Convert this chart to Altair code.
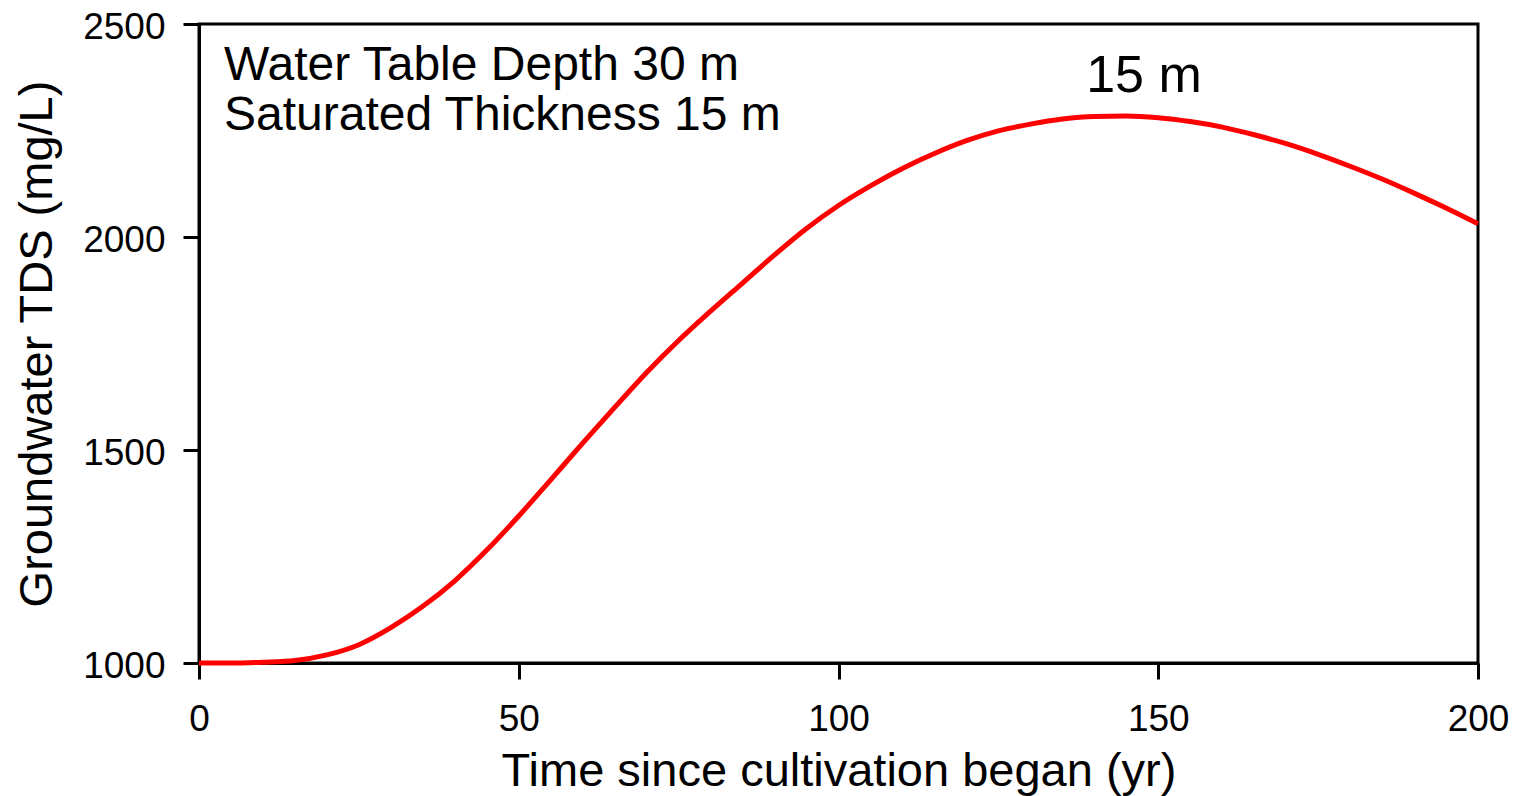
import altair as alt
import pandas as pd

years = [0, 5, 10, 15, 20, 25, 30, 35, 40, 45, 50, 55, 60, 65, 70, 75, 80, 85, 90, 95,
         100, 105, 110, 115, 120, 125, 130, 135, 140, 145, 150, 155, 160, 165, 170, 175,
         180, 185, 190, 195, 200]
tds = [1000, 1000, 1002, 1006, 1019, 1043, 1083, 1133, 1193, 1265, 1345, 1430, 1516,
       1600, 1682, 1757, 1826, 1892, 1958, 2020, 2074, 2120, 2161, 2196, 2226, 2249,
       2265, 2277, 2283, 2284, 2280, 2271, 2258, 2240, 2219, 2194, 2166, 2136, 2103,
       2068, 2031]

x_ticks = [0, 50, 100, 150, 200]
y_ticks = [1000, 1500, 2000, 2500]

note_lines = ["Water Table Depth 30 m", "Saturated Thickness 15 m"]
curve_label = ["15 m"]

FONT = "Liberation Sans"

df = pd.DataFrame({"t": years, "tds": tds})

line = alt.Chart(df).mark_line(color="#ff0000", strokeWidth=5, interpolate="monotone").encode(
    x=alt.X("t:Q", scale=alt.Scale(domain=[0, 200], nice=False),
            axis=alt.Axis(values=x_ticks, title="Time since cultivation began (yr)",
                          labelFlush=False, labelPadding=22, titleY=122,
                          titleBaseline="alphabetic", titleFontSize=47, format="d")),
    y=alt.Y("tds:Q", scale=alt.Scale(domain=[1000, 2500], nice=False, zero=False),
            axis=alt.Axis(values=y_ticks, title="Groundwater TDS (mg/L)",
                          labelPadding=18, labelOffset=3, titleX=-148, format="d",
                          titleBaseline="alphabetic", titleFontSize=47)),
)

note1 = alt.Chart(pd.DataFrame({"txt": [note_lines[0]]})).mark_text(
    align="left", baseline="alphabetic", fontSize=48, font=FONT, color="black"
).encode(text="txt:N", x=alt.value(25), y=alt.value(56))

note2 = alt.Chart(pd.DataFrame({"txt": [note_lines[1]]})).mark_text(
    align="left", baseline="alphabetic", fontSize=48, font=FONT, color="black"
).encode(text="txt:N", x=alt.value(25), y=alt.value(106))

lab = alt.Chart(pd.DataFrame({"txt": curve_label})).mark_text(
    align="center", baseline="alphabetic", fontSize=52, font=FONT, color="black"
).encode(text="txt:N", x=alt.value(945), y=alt.value(68))

chart = (line + note1 + note2 + lab).properties(
    width=1279, height=639,
    background="white",
    autosize=alt.AutoSizeParams(type="none"),
    padding={"left": 199, "top": 24, "right": 42, "bottom": 133},
).configure_view(
    stroke="black", strokeWidth=3
).configure_axis(
    grid=False, domainColor="black", domainWidth=3, tickColor="black", tickWidth=3,
    tickSize=16, labelFont=FONT, labelFontSize=37, labelColor="black",
    titleFont=FONT, titleFontSize=46, titleFontWeight="normal", titleColor="black",
)

chart.save("out.html", embed_options={"renderer": "svg", "actions": False})
